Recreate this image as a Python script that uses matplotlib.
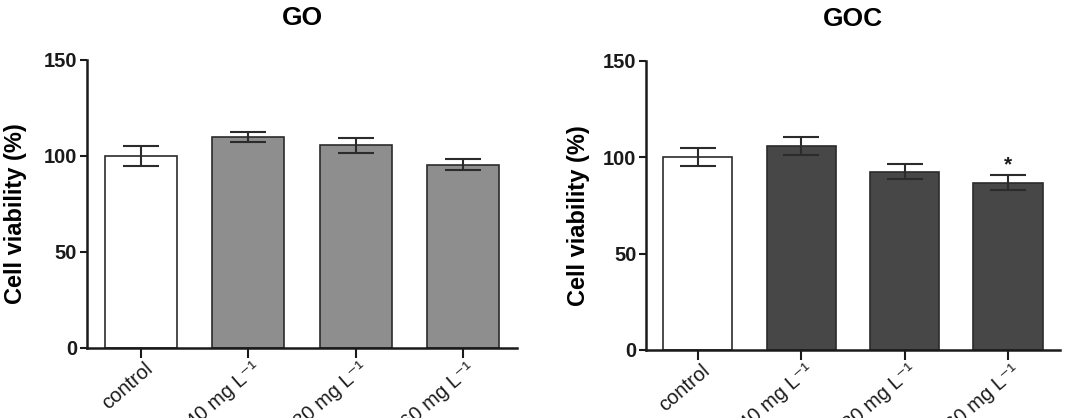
import numpy as np
import matplotlib
matplotlib.use("Agg")
import matplotlib.pyplot as plt
from matplotlib.transforms import offset_copy

plt.rcParams['font.family'] = ['Liberation Sans', 'DejaVu Sans']

categories = ["control", "40 mg L\u207b\u00b9", "80 mg L\u207b\u00b9", "160 mg L\u207b\u00b9"]
go_mean = [100, 110, 105.5, 95.5]
go_err = [5.4, 2.5, 3.8, 3.0]
goc_mean = [100, 106, 92.5, 86.8]
goc_err = [4.6, 4.7, 4.0, 3.7]
goc_signif = ["", "", "", "*"]

edge = '#2b2b2b'


def panel(fig, ax, means, errs, fill, title, ylab_x):
    x = np.arange(len(categories))
    colors = ['white'] + [fill] * (len(categories) - 1)
    ax.bar(x, means, width=0.67, color=colors, edgecolor=edge, linewidth=1.2, zorder=2)
    ax.errorbar(x, means, yerr=errs, fmt='none', ecolor=edge, elinewidth=1.5,
                capsize=13, capthick=1.5, zorder=3)
    ax.set_xlim(-0.5, 3.5)
    ax.set_ylim(0, 150)
    ax.set_yticks([0, 50, 100, 150])
    ax.set_xticks(x)
    ax.set_xticklabels([])
    # rotated category labels, placed just right of each tick
    trans = offset_copy(ax.get_xaxis_transform(), fig=fig, x=3, y=-11, units='dots')
    for xi, lab in zip(x, categories):
        ax.text(xi, 0, lab, transform=trans, rotation=41, ha='right', va='top',
                rotation_mode='anchor', fontsize=14.5, color='#1a1a1a', clip_on=False)
    for lab in ax.get_yticklabels():
        lab.set_fontweight('bold')
        lab.set_fontsize(14.5)
    ax.tick_params(axis='y', length=5, width=1.5, pad=2, colors='#1a1a1a')
    ax.tick_params(axis='x', length=7, width=1.5, colors='#1a1a1a')
    for s in ['top', 'right']:
        ax.spines[s].set_visible(False)
    for s in ['left', 'bottom']:
        ax.spines[s].set_linewidth(1.8)
        ax.spines[s].set_color('#1a1a1a')
    ax.set_ylabel('Cell viability (%)', fontsize=17, fontweight='bold')
    ax.yaxis.set_label_coords(ylab_x, 0.465)
    ax.set_title(title, fontsize=19, fontweight='bold', pad=25)


fig = plt.figure(figsize=(10.87, 4.18), dpi=100)
ax1 = fig.add_axes([0.080, 0.1675, 0.3956, 0.689])
ax2 = fig.add_axes([0.5943, 0.1627, 0.3807, 0.692])

panel(fig, ax1, go_mean, go_err, '#8e8e8e', 'GO', -0.14)
panel(fig, ax2, goc_mean, goc_err, '#474747', 'GOC', -0.135)

for i, mark in enumerate(goc_signif):
    if mark:
        ax2.text(i, goc_mean[i] + goc_err[i] + 0.5, mark, ha='center', va='bottom',
                 fontsize=15, fontweight='bold', color='#1a1a1a')

fig.savefig('out.png', dpi=100)
